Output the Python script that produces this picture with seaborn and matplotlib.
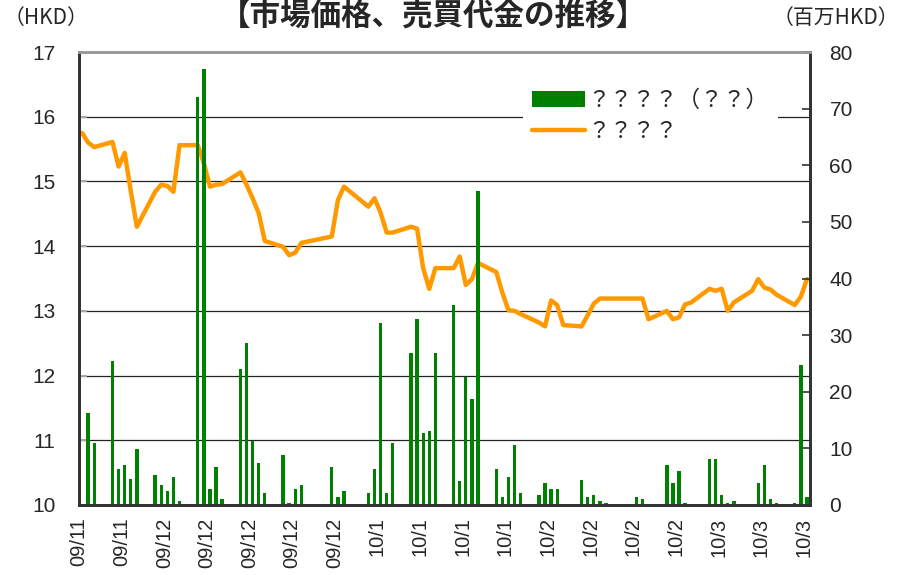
import numpy as np
import pandas as pd
import matplotlib
matplotlib.use("Agg")
import matplotlib.pyplot as plt
import seaborn as sns
from matplotlib.patches import Patch
from matplotlib.lines import Line2D

# ---------------- data ----------------
title = "【市場価格、売買代金の推移】"
left_unit = "（HKD）"
right_unit = "（百万HKD）"
legend_labels = ["？？？？（？？）", "？？？？"]

axis_start = "2009-11-18"
axis_end = "2010-03-17"

trade_dates = [
    "2009-11-18", "2009-11-19", "2009-11-20", "2009-11-23", "2009-11-24", "2009-11-25",
    "2009-11-26", "2009-11-27", "2009-11-30",
    "2009-12-01", "2009-12-02", "2009-12-03", "2009-12-04", "2009-12-07", "2009-12-08",
    "2009-12-09", "2009-12-10", "2009-12-11", "2009-12-14", "2009-12-15", "2009-12-16",
    "2009-12-17", "2009-12-18", "2009-12-21", "2009-12-22", "2009-12-23", "2009-12-24",
    "2009-12-29", "2009-12-30", "2009-12-31",
    "2010-01-04", "2010-01-05", "2010-01-06", "2010-01-07", "2010-01-08", "2010-01-11",
    "2010-01-12", "2010-01-13", "2010-01-14", "2010-01-15", "2010-01-18", "2010-01-19",
    "2010-01-20", "2010-01-21", "2010-01-22", "2010-01-25", "2010-01-26", "2010-01-27",
    "2010-01-28", "2010-01-29",
    "2010-02-01", "2010-02-02", "2010-02-03", "2010-02-04", "2010-02-05", "2010-02-08",
    "2010-02-09", "2010-02-10", "2010-02-11", "2010-02-12", "2010-02-17", "2010-02-18",
    "2010-02-19", "2010-02-22", "2010-02-23", "2010-02-24", "2010-02-25", "2010-02-26",
    "2010-03-01", "2010-03-02", "2010-03-03", "2010-03-04", "2010-03-05", "2010-03-08",
    "2010-03-09", "2010-03-10", "2010-03-11", "2010-03-12", "2010-03-15", "2010-03-16",
    "2010-03-17",
]

prices = [
    15.75, 15.60, 15.53, 15.61, 15.23, 15.44, 14.85, 14.30, 14.84,
    14.95, 14.93, 14.84, 15.56, 15.56, 15.28, 14.92, 14.95, 14.96, 15.14, 14.95, 14.74,
    14.51, 14.08, 13.99, 13.86, 13.90, 14.05, 14.15, 14.71, 14.92,
    14.61, 14.74, 14.52, 14.21, 14.21, 14.30, 14.27, 13.66, 13.34, 13.66, 13.66, 13.84,
    13.40, 13.49, 13.74, 13.60, 13.28, 13.01, 13.00, 12.95,
    12.82, 12.76, 13.16, 13.09, 12.78, 12.76, 12.93, 13.11, 13.19, 13.19, 13.19, 13.19,
    12.87, 13.00, 12.87, 12.90, 13.10, 13.13,
    13.34, 13.31, 13.34, 13.00, 13.13, 13.31, 13.49, 13.36, 13.33, 13.25, 13.09, 13.22,
    13.49,
]

volumes = [
    0.0, 16.3, 11.0, 25.5, 6.4, 7.1, 4.6, 9.9, 5.3,
    3.6, 2.5, 4.9, 0.7, 72.1, 77.0, 2.8, 6.7, 1.1, 24.0, 28.6, 11.3,
    7.4, 2.1, 8.8, 0.35, 2.8, 3.5, 6.7, 1.4, 2.5,
    2.1, 6.4, 32.1, 2.2, 10.9, 26.8, 32.8, 12.7, 13.1, 26.8, 35.3, 4.2,
    22.6, 18.7, 55.5, 6.4, 1.5, 5.0, 10.6, 2.2,
    1.8, 3.8, 2.8, 2.8, 0.0, 4.5, 1.5, 1.8, 0.7, 0.3, 1.4, 1.1,
    0.0, 7.1, 3.9, 6.0, 0.4, 0.0,
    8.1, 8.1, 1.8, 0.4, 0.7, 0.0, 3.8, 7.1, 1.0, 0.3, 0.3, 24.7,
    1.4,
]

tick_labels = ["09/11"] * 2 + ["09/12"] * 5 + ["10/1"] * 4 + ["10/2"] * 4 + ["10/3"] * 3

price_ticks = [10, 11, 12, 13, 14, 15, 16, 17]
volume_ticks = [0, 10, 20, 30, 40, 50, 60, 70, 80]

# ---------------- styling ----------------
sns.set_style("white")
plt.rcParams["font.family"] = ["Noto Sans CJK JP", "DejaVu Sans"]
num_font = ["Liberation Sans Narrow", "Liberation Sans", "DejaVu Sans"]

GREEN = "#008000"
ORANGE = "#FF9900"

start = pd.Timestamp(axis_start)
n_days = (pd.Timestamp(axis_end) - start).days + 1
df = pd.DataFrame({
    "date": pd.to_datetime(trade_dates),
    "price": prices,
    "volume": volumes,
})
df["x"] = (df["date"] - start).dt.days + 0.5

W, H = 905, 575
fig = plt.figure(figsize=(W / 100, H / 100), dpi=100)
ax = fig.add_axes([79 / W, 70 / H, 731 / W, 453 / H])
ax2 = ax.twinx()

# price line (left axis)
sns.lineplot(data=df, x="x", y="price", ax=ax, color=ORANGE, linewidth=3.2,
             estimator=None, sort=False, solid_joinstyle="round",
             solid_capstyle="round")

# traded value bars (right axis)
sns.barplot(data=df, x="x", y="volume", ax=ax2, native_scale=True, color=GREEN,
            saturation=1, width=0.55, errorbar=None, linewidth=0)

ax.set_xlim(0, n_days)
ax.set_ylim(price_ticks[0], price_ticks[-1])
ax2.set_ylim(volume_ticks[0], volume_ticks[-1])

ax.set_yticks(price_ticks)
ax2.set_yticks(volume_ticks)
ax.set_xticks(np.arange(0, n_days, 7))
ax.set_xticklabels(tick_labels, rotation=90, va="top", ha="center")

for a in (ax, ax2):
    a.set_xlabel("")
    a.set_ylabel("")

ax.grid(axis="y", color="#222222", linewidth=0.9)
ax.grid(axis="x", visible=False)
ax.set_axisbelow(True)

ax.tick_params(axis="x", direction="in", length=6, width=1.6, color="#8a8a8a",
               pad=9, labelsize=14.5)
ax.tick_params(axis="y", direction="in", length=6, width=1.4, color="#aaaaaa",
               pad=17, labelsize=15)
ax2.tick_params(axis="y", direction="in", length=6, width=1.2, color="#333333",
                pad=14, labelsize=15)

for lbl in ax.get_yticklabels() + ax2.get_yticklabels() + ax.get_xticklabels():
    lbl.set_fontfamily(num_font)

for a in (ax, ax2):
    for side in ("left", "right", "bottom"):
        a.spines[side].set_color("#333333")
        a.spines[side].set_linewidth(2.0)
    a.spines["top"].set_color("#9a9a9a")
    a.spines["top"].set_linewidth(2.0)

# legend
handles = [Patch(facecolor=GREEN, edgecolor="none"),
           Line2D([], [], color=ORANGE, linewidth=3.2, solid_capstyle="round")]
leg = ax2.legend(handles=handles, labels=legend_labels, loc="upper left",
                 bbox_to_anchor=((523 - 79) / 731, (505 - 80) / 453),
                 borderaxespad=0, borderpad=0.4, handlelength=2.35,
                 handletextpad=0.1, labelspacing=0.35, frameon=True,
                 fancybox=False, facecolor="white", edgecolor="none",
                 framealpha=1, prop={"family": ["Noto Sans CJK JP", "DejaVu Sans"],
                                     "size": 16.3})

# texts
fig.text(433 / W, 1.0, title, ha="center", va="top",
         fontsize=22, fontweight="bold")
fig.text(4 / W, 1 - 18 / H, left_unit, ha="left", va="center", fontsize=15)
fig.text(899 / W, 1 - 18 / H, right_unit, ha="right", va="center", fontsize=15)

fig.savefig("out.png", dpi=100)
